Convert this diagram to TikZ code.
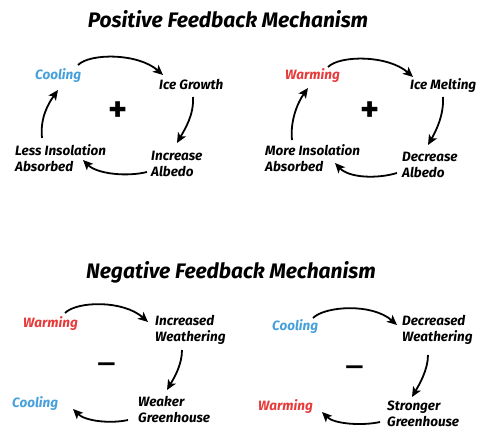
\documentclass[tikz,border=0pt]{standalone}
\usepackage{fontspec}
\setmainfont{Fira Sans}
\usetikzlibrary{arrows.meta}
\definecolor{coolblue}{RGB}{70,160,220}
\definecolor{warmred}{RGB}{232,58,58}
\begin{document}
\begin{tikzpicture}[x=1pt,y=-1pt,
  lbl/.style={font=\fontsize{13.5}{16.5}\selectfont\bfseries\itshape, inner sep=0pt, anchor=base west, align=left},
  ttl/.style={font=\fontsize{21}{24}\selectfont\bfseries\itshape, inner sep=0pt, anchor=base},
  sgn/.style={font=\fontsize{36}{36}\selectfont\bfseries, inner sep=0pt},
  neg/.style={font=\fontsize{36}{36}\selectfont, inner sep=0pt},
  arr/.style={line width=1.8pt, -{Stealth[length=10pt,width=9pt,inset=2.5pt]}}]
\useasboundingbox (0,0) rectangle (477,430);
\fill[white] (0,0) rectangle (477,430);
% titles
\node[ttl] (t1) at (228,28) {Positive Feedback Mechanism};
\node[ttl] (t2) at (231,279) {Negative Feedback Mechanism};
% top-left
\node[lbl, text=coolblue] (cool1) at (35,80) {Cooling};
\node[lbl] (ice) at (159,90) {Ice Growth};
\node[lbl] (inc) at (151,177) {Increase\\Albedo};
\node[lbl] (less) at (15,172) {Less Insolation\\Absorbed};
\node[sgn] (plus1) at (118,112) {+};
\draw[arr] ([shift={(43,-15)}]cool1.base west) .. controls +(12,-12) and +(-25,-22) .. ([shift={(4,-15)}]ice.base west);
\draw[arr] ([shift={(34,7)}]ice.base west) .. controls +(1,18) and +(8,-14) .. ([shift={(26,-34)}]inc.base west);
\draw[arr] ([shift={(-4,-5)}]inc.base west) .. controls +(-20,5) and +(14,14) .. ([shift={(68,-12)}]less.base west);
\draw[arr] ([shift={(27,-34)}]less.base west) .. controls +(-2,-20) and +(-10,14) .. ([shift={(23,10)}]cool1.base west);
% top-right
\node[lbl, text=warmred] (warm1) at (285,80) {Warming};
\node[lbl] (melt) at (410,90) {Ice Melting};
\node[lbl] (dec) at (402,178) {Decrease\\Albedo};
\node[lbl] (more) at (265,172) {More Insolation\\Absorbed};
\node[sgn] (plus2) at (370,112) {+};
\draw[arr] ([shift={(43,-13)}]warm1.base west) .. controls +(12,-12) and +(-25,-22) .. ([shift={(3,-13)}]melt.base west);
\draw[arr] ([shift={(33,7)}]melt.base west) .. controls +(1,18) and +(8,-14) .. ([shift={(26,-33)}]dec.base west);
\draw[arr] ([shift={(-5,-5)}]dec.base west) .. controls +(-20,6) and +(14,15) .. ([shift={(70,-9)}]more.base west);
\draw[arr] ([shift={(27,-32)}]more.base west) .. controls +(-2,-20) and +(-10,14) .. ([shift={(23,8)}]warm1.base west);
% bottom-left
\node[lbl, text=warmred] (warm2) at (23,328) {Warming};
\node[lbl] (incw) at (155,342) {Increased\\Weathering};
\node[lbl] (weak) at (138,423) {Weaker\\Greenhouse};
\node[lbl, text=coolblue] (cool2) at (12,408) {Cooling};
\node[neg] (minus1) at (107,369.5) {–};
\draw[arr] ([shift={(42,-15)}]warm2.base west) .. controls +(12,-12) and +(-25,-22) .. ([shift={(-7,-20)}]incw.base west);
\draw[arr] ([shift={(27,8)}]incw.base west) .. controls +(0,15) and +(7,-12) .. ([shift={(29,-33)}]weak.base west);
\draw[arr] ([shift={(-10,-3)}]weak.base west) .. controls +(-18,4) and +(12,12) .. ([shift={(61,1)}]cool2.base west);
% bottom-right
\node[lbl, text=coolblue] (cool3) at (272,331) {Cooling};
\node[lbl] (decw) at (402,342) {Decreased\\Weathering};
\node[lbl] (strong) at (387,427) {Stronger\\Greenhouse};
\node[lbl, text=warmred] (warm3) at (258,411) {Warming};
\node[neg] (minus2) at (355,372.5) {–};
\draw[arr] ([shift={(41,-13)}]cool3.base west) .. controls +(12,-12) and +(-25,-22) .. ([shift={(-5,-17)}]decw.base west);
\draw[arr] ([shift={(26,13)}]decw.base west) .. controls +(0,15) and +(7,-12) .. ([shift={(25,-30)}]strong.base west);
\draw[arr] ([shift={(-7,-5)}]strong.base west) .. controls +(-18,4) and +(12,12) .. ([shift={(64,1)}]warm3.base west);
\end{tikzpicture}
\end{document}
